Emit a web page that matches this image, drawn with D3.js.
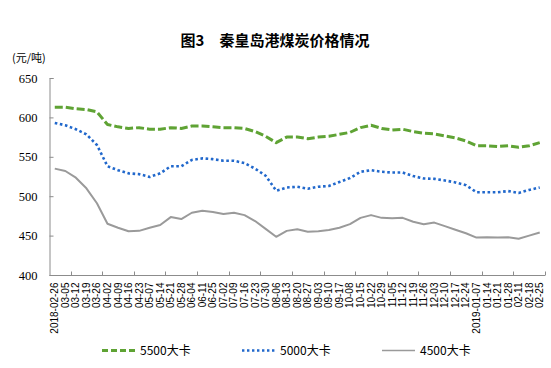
<!DOCTYPE html>
<html><head><meta charset="utf-8">
<script src="https://cdn.jsdelivr.net/npm/d3@7"></script>
<style>body{margin:0;background:#fff}svg{display:block}</style>
</head><body>
<svg id="c" width="551" height="368"></svg>
<script>
const dates = ["2018-02-26","03-05","03-12","03-19","03-26","04-02","04-09","04-16","04-23","05-07","05-14","05-21","05-28","06-04","06-11","06-25","07-02","07-09","07-16","07-23","07-30","08-06","08-13","08-20","08-27","09-03","09-10","09-17","10-08","10-15","10-22","10-29","11-05","11-12","11-19","11-26","12-03","12-10","12-17","12-24","2019-01-07","01-14","01-21","01-28","02-11","02-18","02-25"];
const kcal5500 = [613,613,611,610,607,591,588,586,587,585,585,587,586,589,589,588,587,587,586,582,576,568,575,575,573,575,576,578.5,581,587,590,586,584,585,582,580,579,576.5,574,570,564,564,563,564,562,564,568];
const kcal5000 = [593,590,585,578.5,565,538,533,529,528,524.5,529,538,538,546,548,547,545,545,542,535,526,507,511,512,509.5,512,513,518,523,531,533,531,530,530,525.5,522.5,522,520,517.5,514,505,505,505,506.5,504,508,511];
const kcal4500 = [535,532,523.5,510,491,465,460,455.5,456,460,463.5,473.5,471,479,481.5,480,477.5,479,476,468.5,458.5,448.5,456,458,455,455.5,457,460,464.5,472.5,476,472.5,472,472.5,467.5,464.5,466.5,462,457.5,453,447.5,448,447.5,448,446,450,454];
const yTicks = [400,450,500,550,600,650];
const seriesNames = ["5500大卡","5000大卡","4500大卡"];

const svg = d3.select("#c");
const x = d3.scaleBand().domain(dates).range([49.5,545]).padding(0);
const y = d3.scaleLinear().domain([400,650]).range([275,78]);
const cx = d => x(d) + x.bandwidth()/2;
const axisColor = "#8c8c8c";

// title
svg.append("text").attr("x",275).attr("y",46).attr("text-anchor","middle")
  .attr("font-family","'Noto Sans CJK SC', sans-serif").attr("font-size",15).attr("font-weight","bold")
  .attr("fill","#000").text("图3　秦皇岛港煤炭价格情况");
svg.append("text").attr("x",12).attr("y",62)
  .attr("font-family","'Noto Sans CJK SC', sans-serif").attr("font-size",11)
  .attr("fill","#000").text("(元/吨)");

// y axis
const yAxis = d3.axisLeft(y).tickValues(yTicks).tickSize(-4).tickPadding(12).tickFormat(d3.format("d"));
const gy = svg.append("g").attr("transform","translate(49.5,0)").call(yAxis);
gy.select(".domain").attr("stroke",axisColor);
gy.selectAll(".tick line").attr("stroke",axisColor);
gy.selectAll("text").attr("font-family","'Liberation Serif', serif").attr("font-size",12.5).attr("fill","#000");

// x axis
const gx = svg.append("g").attr("transform","translate(0,275.5)");
gx.append("line").attr("x1",49.5).attr("x2",545).attr("stroke",axisColor);
const tickIdx = d3.range(2, dates.length+1, 3);
gx.selectAll("line.tk").data(tickIdx).join("line").attr("class","tk")
  .attr("x1",i=>Math.round(x.range()[0] + i*x.step())+0.5)
  .attr("x2",i=>Math.round(x.range()[0] + i*x.step())+0.5)
  .attr("y1",0).attr("y2",-4).attr("stroke",axisColor);
gx.selectAll("text").data(dates).join("text")
  .attr("transform",d=>`translate(${cx(d)+3.5},7) rotate(-90)`)
  .attr("text-anchor","end")
  .attr("font-family","'Liberation Sans', Arial, sans-serif").attr("font-size",10)
  .attr("fill","#000").text(d=>d);

const line = d3.line().x((d,i)=>cx(dates[i])).y(d=>y(d)).curve(d3.curveLinear);
const styles = [
  {data:kcal5500, color:"#5fa334", w:3, dash:"8,3", cap:"butt"},
  {data:kcal5000, color:"#2168cc", w:2.6, dash:"2.6,2.6", cap:"butt"},
  {data:kcal4500, color:"#9a9a9a", w:2, dash:null, cap:"butt"}
];
styles.forEach(s=>{
  svg.append("path").datum(s.data).attr("d",line).attr("fill","none")
    .attr("stroke",s.color).attr("stroke-width",s.w).attr("stroke-linejoin","round")
    .attr("stroke-dasharray",s.dash).attr("stroke-linecap",s.cap);
});

// legend
const lg = [{x1:102,x2:137,tx:140},{x1:242,x2:276,tx:280},{x1:382,x2:415,tx:420}];
lg.forEach((p,i)=>{
  const s = styles[i];
  svg.append("line").attr("x1",p.x1).attr("x2",p.x2).attr("y1",350.5).attr("y2",350.5)
    .attr("stroke",s.color).attr("stroke-width",s.w===2?1.5:s.w)
    .attr("stroke-dasharray",i===0?"6,3":(i===1?"2.4,2.6":null));
  svg.append("text").attr("x",p.tx).attr("y",355)
    .attr("font-family","'Noto Sans CJK SC', sans-serif").attr("font-size",12)
    .attr("fill","#000").text(seriesNames[i]);
});
</script>
</body></html>
